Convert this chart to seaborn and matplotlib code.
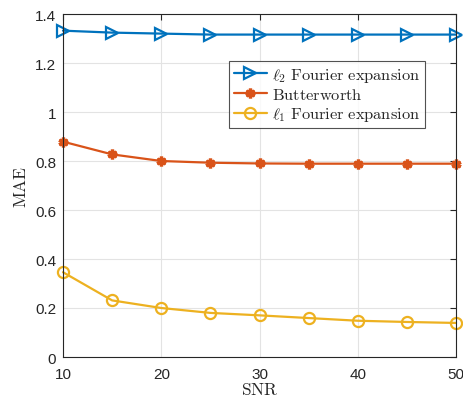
import matplotlib
matplotlib.use("Agg")
import matplotlib.pyplot as plt
import seaborn as sns
import pandas as pd

snr = [10, 15, 20, 25, 30, 35, 40, 45, 50]
l2_fourier = [1.332, 1.324, 1.320, 1.316, 1.316, 1.316, 1.316, 1.316, 1.316]
butterworth = [0.879, 0.827, 0.800, 0.793, 0.790, 0.789, 0.789, 0.789, 0.789]
l1_fourier = [0.346, 0.231, 0.200, 0.180, 0.170, 0.159, 0.148, 0.143, 0.139]
series_names = [r'$\ell_2\ \mathrm{Fourier\ expansion}$', r'$\mathrm{Butterworth}$',
                r'$\ell_1\ \mathrm{Fourier\ expansion}$']
xticks = [10, 20, 30, 40, 50]
yticks = [0, 0.2, 0.4, 0.6, 0.8, 1, 1.2, 1.4]

sns.set_style("white")
plt.rcParams['font.family'] = ['Liberation Sans', 'DejaVu Sans']
plt.rcParams['mathtext.fontset'] = 'cm'

rows = []
for name, vals in zip(series_names, [l2_fourier, butterworth, l1_fourier]):
    for x, v in zip(snr, vals):
        rows.append({'SNR': x, 'MAE': v, 'method': name})
df = pd.DataFrame(rows)

colors = ['#0072BD', '#D95319', '#EDB120']
markers = ['>', 'X', 'o']

fig = plt.figure(figsize=(4.63, 4.02), dpi=100)
ax = fig.add_axes([63/463, 1 - 358/402, (456-63)/463, (358-15)/402])

sns.lineplot(data=df, x='SNR', y='MAE', hue='method', style='method',
             palette=dict(zip(series_names, colors)),
             markers=dict(zip(series_names, markers)), dashes=False,
             linewidth=1.6, markersize=8, markeredgewidth=1.6,
             ax=ax, clip_on=False, legend=False)

for line, name, m, c in zip(ax.lines, series_names, markers, colors):
    if m in ('>', 'o'):
        line.set_markerfacecolor('none')
    else:
        line.set_marker((6, 2, 0))
        line.set_markersize(7)
        line.set_markeredgewidth(2.4)
        line.set_markerfacecolor(c)
    line.set_markeredgecolor(c)
    line.set_label(name)

ax.set_xlim(10, 50)
ax.set_ylim(0, 1.4)
ax.set_xticks(xticks)
ax.set_yticks(yticks)
ax.set_yticklabels(['0', '0.2', '0.4', '0.6', '0.8', '1', '1.2', '1.4'])
ax.tick_params(direction='in', top=True, right=True, length=4, width=0.8,
               labelsize=11, colors='#262626')
ax.tick_params(axis='x', pad=7)
ax.tick_params(axis='y', pad=5)
ax.grid(True, color='#e3e3e3', linewidth=0.8)
for s in ax.spines.values():
    s.set_color('#262626')
    s.set_linewidth(0.8)
ax.set_xlabel(r'$\mathrm{SNR}$', fontsize=12.5, labelpad=0)
ax.set_ylabel(r'$\mathrm{MAE}$', fontsize=12.5, labelpad=4)

leg = ax.legend(loc='upper left', bbox_to_anchor=((229-63)/393, (358-62)/343),
                fontsize=11.8, frameon=True, fancybox=False, edgecolor='#262626',
                handlelength=2.0, handletextpad=0.3, borderpad=0.3,
                labelspacing=0.2, borderaxespad=0)
leg.get_frame().set_linewidth(0.8)

fig.savefig('out.png', dpi=100)
